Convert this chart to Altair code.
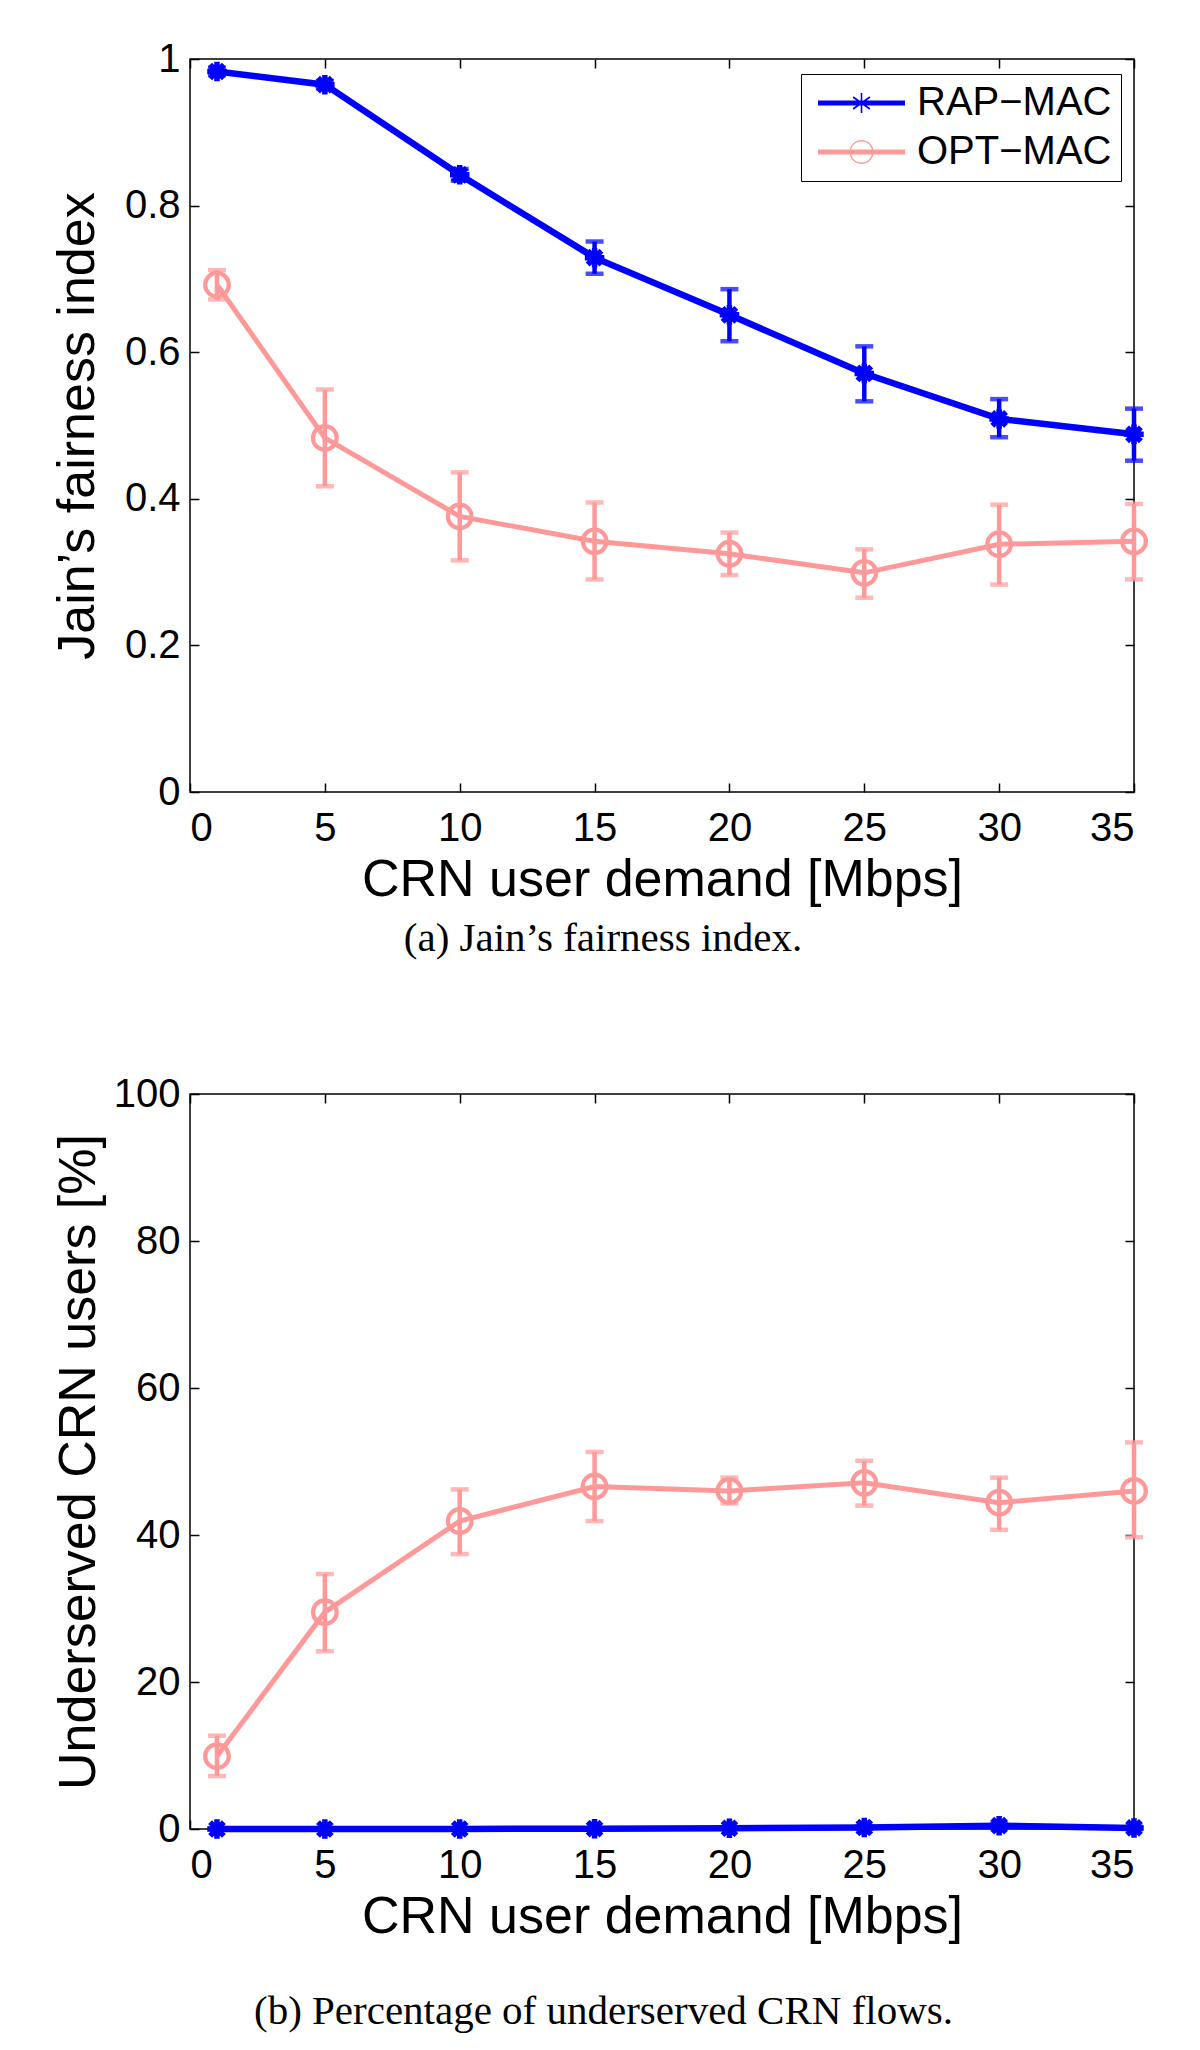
import math
import altair as alt
import pandas as pd

# ---------------- data ----------------
x_vals = [1, 5, 10, 15, 20, 25, 30, 35]
names = ["RAP−MAC", "OPT−MAC"]
colors = ["#0000FF", "#FF9999"]

# (a) Jain's fairness index
fair_rap = [0.983, 0.965, 0.842, 0.729, 0.651, 0.571, 0.509, 0.488]
fair_rap_lo = [0.978, 0.960, 0.834, 0.707, 0.615, 0.533, 0.484, 0.452]
fair_rap_hi = [0.988, 0.970, 0.850, 0.751, 0.686, 0.608, 0.536, 0.523]
fair_opt = [0.692, 0.483, 0.376, 0.342, 0.325, 0.299, 0.338, 0.342]
fair_opt_lo = [0.672, 0.417, 0.316, 0.290, 0.296, 0.265, 0.283, 0.290]
fair_opt_hi = [0.712, 0.549, 0.436, 0.395, 0.354, 0.331, 0.392, 0.393]

# (b) underserved CRN users [%]
und_rap = [0.0, 0.0, 0.0, 0.05, 0.1, 0.2, 0.45, 0.15]
und_rap_lo = [0.0, 0.0, 0.0, 0.0, 0.0, 0.05, 0.2, 0.0]
und_rap_hi = [0.0, 0.0, 0.0, 0.1, 0.2, 0.35, 0.7, 0.3]
und_opt = [9.9, 29.5, 41.9, 46.6, 46.0, 47.1, 44.4, 46.0]
und_opt_lo = [7.2, 24.2, 37.4, 41.9, 44.3, 44.0, 40.7, 39.7]
und_opt_hi = [12.7, 34.7, 46.2, 51.3, 47.8, 50.1, 47.8, 52.6]

x_ticks = [0, 5, 10, 15, 20, 25, 30, 35]
fair_ticks = [0, 0.2, 0.4, 0.6, 0.8, 1.0]
und_ticks = [0, 20, 40, 60, 80, 100]

# ---------------- styling helpers ----------------
W = 944
H1 = 733
H2 = 735
FONT = "Liberation Sans"
SERIF = "Liberation Serif"


def poly(pts):
    s = sum(pts[i][0] * pts[(i + 1) % len(pts)][1] - pts[(i + 1) % len(pts)][0] * pts[i][1]
            for i in range(len(pts)))
    if s < 0:
        pts = pts[::-1]
    return "M" + "L".join(f"{x:.4f},{y:.4f}" for x, y in pts) + "Z"


def seg(p, q, t):
    dx, dy = q[0] - p[0], q[1] - p[1]
    L = math.hypot(dx, dy)
    nx, ny = -dy / L * t, dx / L * t
    return poly([(p[0] + nx, p[1] + ny), (q[0] + nx, q[1] + ny),
                 (q[0] - nx, q[1] - ny), (p[0] - nx, p[1] - ny)])


def ring(cx, cy, R, r, n=48):
    outer = [(cx + R * math.cos(2 * math.pi * i / n), cy + R * math.sin(2 * math.pi * i / n)) for i in range(n)]
    inner = [(cx + r * math.cos(2 * math.pi * i / n), cy + r * math.sin(2 * math.pi * i / n)) for i in range(n)]
    o = poly(outer)
    pts = inner
    s = sum(pts[i][0] * pts[(i + 1) % n][1] - pts[(i + 1) % n][0] * pts[i][1] for i in range(n))
    if s > 0:
        pts = pts[::-1]
    i_ = "M" + "L".join(f"{x:.4f},{y:.4f}" for x, y in pts) + "Z"
    return o + i_


AST = "M0,-1L0,1M-1,0L1,0M-0.707,-0.707L0.707,0.707M-0.707,0.707L0.707,-0.707"

# legend symbols (unit = 20 px for symbolSize 1600)
LX0, LX1, MC = -0.6, 3.75, 1.575
bar = poly([(LX0, -0.13), (LX1, -0.13), (LX1, 0.13), (LX0, 0.13)])
leg_rap = (bar + seg((MC, -0.5), (MC, 0.5), 0.04)
           + seg((MC - 0.42, -0.3), (MC + 0.42, 0.3), 0.04)
           + seg((MC - 0.42, 0.3), (MC + 0.42, -0.3), 0.04))
leg_opt = bar + ring(MC, 0, 0.6, 0.53)


def panel_df(rap, rap_lo, rap_hi, opt, opt_lo, opt_hi):
    rows = []
    for name, v, lo, hi in [(names[0], rap, rap_lo, rap_hi), (names[1], opt, opt_lo, opt_hi)]:
        for xi, a, b, c in zip(x_vals, v, lo, hi):
            rows.append({"series": name, "x": xi, "y": a, "lo": b, "hi": c})
    return pd.DataFrame(rows)


def panel(df, y_title, y_ticks, y_dom, y_fmt, H, caption, ytitle_pad, cap_offset):
    xs = alt.Scale(domain=[0, 35], nice=False, zero=False)
    ys = alt.Scale(domain=y_dom, nice=False, zero=False)
    x_axis = alt.Axis(values=x_ticks, format="d", title="CRN user demand [Mbps]",
                      gridDash=[9, H - 18], labelPadding=16, titlePadding=6)
    y_axis = alt.Axis(values=y_ticks, format=y_fmt, title=y_title,
                      gridDash=[9, W - 18], labelPadding=10, titlePadding=ytitle_pad)
    X = alt.X("x:Q", scale=xs, axis=x_axis)

    def Y(f):
        return alt.Y(f, scale=ys, axis=y_axis)

    base = alt.Chart(df)
    layers = []
    for name, col, shape, size, sw, lw in [
        (names[1], colors[1], "circle", 560, 4.2, 5.0),
        (names[0], colors[0], AST, 380, 5.5, 6.5),
    ]:
        b = base.transform_filter(alt.datum.series == name)
        layers.append(b.mark_line(color=col, strokeWidth=lw).encode(x=X, y=Y("y:Q")))
        layers.append(b.mark_rule(color=col, strokeWidth=4.5).encode(x=X, y=Y("lo:Q"), y2="hi:Q"))
        layers.append(b.mark_tick(color=col, thickness=4.5, size=18, orient="horizontal").encode(x=X, y=Y("lo:Q")))
        layers.append(b.mark_tick(color=col, thickness=4.5, size=18, orient="horizontal").encode(x=X, y=Y("hi:Q")))
        layers.append(b.mark_point(shape=shape, size=size, strokeWidth=sw, color=col,
                                   filled=False, opacity=1).encode(x=X, y=Y("y:Q")))

    legend = alt.Legend(title=None, orient="none", legendX=611, legendY=15, direction="vertical",
                        padding=9, strokeColor="black", fillColor="white", cornerRadius=0,
                        labelFont=FONT, labelFontSize=40, labelColor="black", labelOffset=67,
                        labelLimit=400, symbolSize=1600, symbolStrokeWidth=0, symbolOpacity=1,
                        rowPadding=9)
    leg_df = pd.DataFrame({"name": names})
    layers.append(
        alt.Chart(leg_df).mark_point(filled=True, opacity=0).encode(
            color=alt.Color("name:N", scale=alt.Scale(domain=names, range=colors), legend=legend),
            shape=alt.Shape("name:N", scale=alt.Scale(domain=names, range=[leg_rap, leg_opt]), legend=legend),
        )
    )
    return alt.layer(*layers).properties(
        width=W, height=H,
        title=alt.TitleParams(caption, orient="bottom", anchor="middle", frame="bounds",
                              font=SERIF, fontSize=41, fontWeight="normal", color="black",
                              offset=cap_offset),
    )


top = panel(panel_df(fair_rap, fair_rap_lo, fair_rap_hi, fair_opt, fair_opt_lo, fair_opt_hi),
            "Jain’s fairness index", fair_ticks, [0, 1], ".1~f", H1,
            "(a) Jain’s fairness index.", 20, 14)
bottom = panel(panel_df(und_rap, und_rap_lo, und_rap_hi, und_opt, und_opt_lo, und_opt_hi),
               "Underserved CRN users [%]", und_ticks, [0, 100], "d", H2,
               "(b) Percentage of underserved CRN flows.", 8, 50)

chart = (
    alt.vconcat(top, bottom, spacing=113)
    .properties(padding={"left": 42, "top": 30, "right": 10, "bottom": 0})
    .configure_view(stroke="black", strokeWidth=1.5)
    .configure_axis(domain=False, ticks=False, tickSize=0, grid=True, gridColor="black",
                    gridWidth=1.5, gridOpacity=1, labelFont=FONT, labelFontSize=40,
                    labelColor="black", titleFont=FONT, titleFontSize=52,
                    titleFontWeight="normal", titleColor="black")
    .configure_legend(symbolType="circle")
)

chart.save("out.html", embed_options={"renderer": "svg", "actions": False})
